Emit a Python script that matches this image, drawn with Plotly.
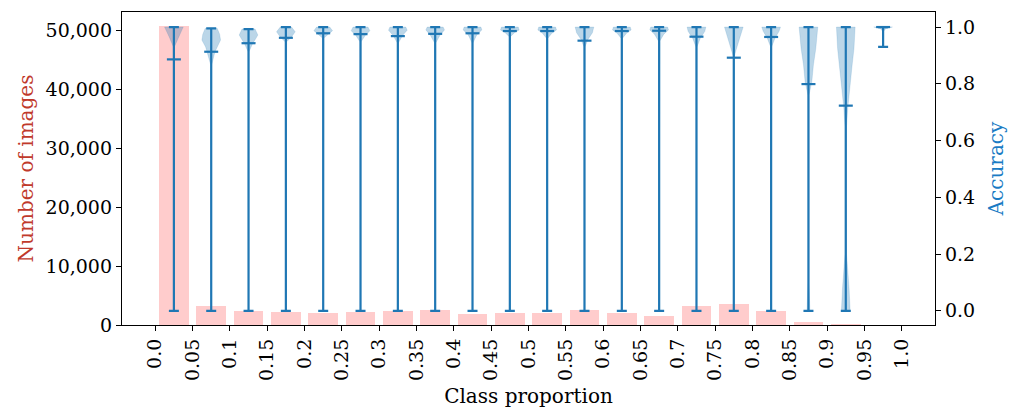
import plotly.graph_objects as go

# ---- data ----
bin_centers = [0.025, 0.075, 0.125, 0.175, 0.225, 0.275, 0.325, 0.375, 0.425, 0.475,
               0.525, 0.575, 0.625, 0.675, 0.725, 0.775, 0.825, 0.875, 0.925, 0.975]
image_counts = [50600, 3300, 2450, 2250, 2100, 2250, 2450, 2600, 1900, 2100,
                2100, 2600, 2100, 1600, 3300, 3600, 2450, 550, 100, 0]
acc_max = [1.0, 0.995, 0.993, 1.0, 1.0, 1.0, 1.0, 1.0, 1.0, 1.0,
           1.0, 1.0, 1.0, 1.0, 1.0, 1.0, 1.0, 1.0, 1.0, 1.0]
acc_min = [0.0, 0.0, 0.0, 0.0, 0.0, 0.0, 0.0, 0.0, 0.0, 0.0,
           0.0, 0.0, 0.0, 0.0, 0.0, 0.0, 0.0, 0.0, 0.0, 0.93]
acc_mean = [0.886, 0.913, 0.943, 0.962, 0.978, 0.975, 0.968, 0.976, 0.978, 0.986,
            0.986, 0.952, 0.986, 0.987, 0.966, 0.892, 0.965, 0.799, 0.723, 1.0]
# violin outlines: (accuracy level, relative half-width) from top to bottom
violin_profiles = [
    [(1.0, 1.0), (0.965, 0.5), (0.93, 0.05), (0.5, 0.02), (0.0, 0.03)],
    [(0.995, 0.65), (0.975, 0.9), (0.954, 1.0), (0.93, 0.6), (0.913, 0.4), (0.866, 0.05), (0.0, 0.0)],
    [(0.993, 0.7), (0.972, 1.0), (0.955, 0.7), (0.943, 0.45), (0.913, 0.05), (0.0, 0.0)],
    [(1.0, 0.6), (0.983, 1.0), (0.965, 0.6), (0.948, 0.08), (0.0, 0.0)],
    [(1.0, 0.7), (0.987, 1.0), (0.975, 0.55), (0.961, 0.08), (0.0, 0.0)],
    [(1.0, 0.8), (0.987, 1.0), (0.97, 0.5), (0.948, 0.06), (0.0, 0.0)],
    [(1.0, 0.85), (0.989, 1.0), (0.97, 0.5), (0.944, 0.06), (0.0, 0.0)],
    [(1.0, 0.85), (0.99, 1.0), (0.97, 0.5), (0.944, 0.06), (0.0, 0.0)],
    [(1.0, 0.9), (0.99, 1.0), (0.972, 0.45), (0.944, 0.05), (0.0, 0.0)],
    [(1.0, 0.9), (0.99, 1.0), (0.98, 0.5), (0.966, 0.06), (0.0, 0.0)],
    [(1.0, 0.9), (0.99, 1.0), (0.978, 0.5), (0.96, 0.06), (0.0, 0.0)],
    [(1.0, 1.0), (0.98, 0.85), (0.955, 0.35), (0.93, 0.05), (0.0, 0.0)],
    [(1.0, 0.9), (0.99, 1.0), (0.978, 0.5), (0.96, 0.06), (0.0, 0.0)],
    [(1.0, 0.9), (0.99, 1.0), (0.975, 0.5), (0.95, 0.06), (0.0, 0.0)],
    [(1.0, 1.0), (0.985, 0.9), (0.96, 0.4), (0.93, 0.06), (0.0, 0.0)],
    [(1.0, 1.0), (0.96, 0.6), (0.92, 0.25), (0.896, 0.05), (0.0, 0.0)],
    [(1.0, 1.0), (0.985, 0.85), (0.96, 0.4), (0.93, 0.05), (0.0, 0.0)],
    [(1.0, 1.0), (0.925, 0.79), (0.866, 0.53), (0.807, 0.36), (0.76, 0.05), (0.1, 0.05), (0.0, 0.15)],
    [(1.0, 1.0), (0.925, 0.88), (0.866, 0.68), (0.807, 0.53), (0.749, 0.32), (0.714, 0.21),
     (0.65, 0.08), (0.4, 0.05), (0.2, 0.08), (0.08, 0.35), (0.0, 0.47)],
    [(1.0, 1.0), (0.995, 0.3), (0.985, 0.05), (0.93, 0.02)],
]
x_tick_vals = [0.0, 0.05, 0.1, 0.15, 0.2, 0.25, 0.3, 0.35, 0.4, 0.45, 0.5,
               0.55, 0.6, 0.65, 0.7, 0.75, 0.8, 0.85, 0.9, 0.95, 1.0]
x_tick_text = ["0.0", "0.05", "0.1", "0.15", "0.2", "0.25", "0.3", "0.35", "0.4", "0.45", "0.5",
               "0.55", "0.6", "0.65", "0.7", "0.75", "0.8", "0.85", "0.9", "0.95", "1.0"]

# ---- style ----
FONT = "DejaVu Serif"
BLUE = "#1f77b4"
BAR_W = 0.04
VIOLIN_HALF = 0.0125

fig = go.Figure()

fig.add_trace(go.Bar(x=bin_centers, y=image_counts, width=BAR_W,
                     marker=dict(color="#ffcccc", line=dict(width=0)),
                     yaxis="y", showlegend=False, hoverinfo="skip"))

for c, prof in zip(bin_centers, violin_profiles):
    ys = [p[0] for p in prof]
    ws = [p[1] for p in prof]
    xr = [c + w * VIOLIN_HALF for w in ws]
    xl = [c - w * VIOLIN_HALF for w in ws[::-1]]
    fig.add_trace(go.Scatter(x=xr + xl + [xr[0]], y=ys + ys[::-1] + [ys[0]],
                             mode="lines", fill="toself",
                             fillcolor="rgba(31,119,180,0.3)",
                             line=dict(color="rgba(31,119,180,0.3)", width=0.5),
                             yaxis="y2", showlegend=False, hoverinfo="skip"))

fig.add_trace(go.Scatter(
    x=bin_centers, y=acc_mean, mode="markers", yaxis="y2", showlegend=False,
    marker=dict(symbol="line-ew-open", size=10, color=BLUE, line=dict(color=BLUE, width=2.2)),
    error_y=dict(type="data", symmetric=False,
                 array=[mx - m for mx, m in zip(acc_max, acc_mean)],
                 arrayminus=[m - mn for m, mn in zip(acc_mean, acc_min)],
                 width=5, thickness=2.2, color=BLUE)))

axis_common = dict(showgrid=False, zeroline=False, showline=True, linecolor="black",
                   linewidth=1.3, ticks="outside", ticklen=5, tickwidth=1.2, tickcolor="black",
                   automargin=False,
                   tickfont=dict(family=FONT, size=19, color="black"))

# page body has an 8px default margin, so the figure is sized/positioned to compensate
fig.update_layout(
    width=1013, height=404,
    margin=dict(l=114, r=86, t=4, b=87),
    paper_bgcolor="white", plot_bgcolor="white",
    bargap=0,
    xaxis=dict(range=[-0.0445, 1.0445], tickvals=x_tick_vals, ticktext=x_tick_text,
               tickangle=-90, mirror=True,
               title=dict(text="Class proportion", font=dict(family=FONT, size=20, color="black"),
                          standoff=8),
               **axis_common),
    yaxis=dict(range=[0, 53050], tickvals=[0, 10000, 20000, 30000, 40000, 50000],
               tickformat=",",
               title=dict(text="Number of images", font=dict(family=FONT, size=20, color="#c0392b"),
                          standoff=6),
               **axis_common),
    yaxis2=dict(range=[-0.05, 1.053], tickvals=[0, 0.2, 0.4, 0.6, 0.8, 1.0],
                tickformat=".1f", overlaying="y", side="right",
                title=dict(text="Accuracy", font=dict(family=FONT, size=20, color="#1a7bc4"),
                           standoff=14),
                **axis_common),
)

fig.write_html("out.html")
